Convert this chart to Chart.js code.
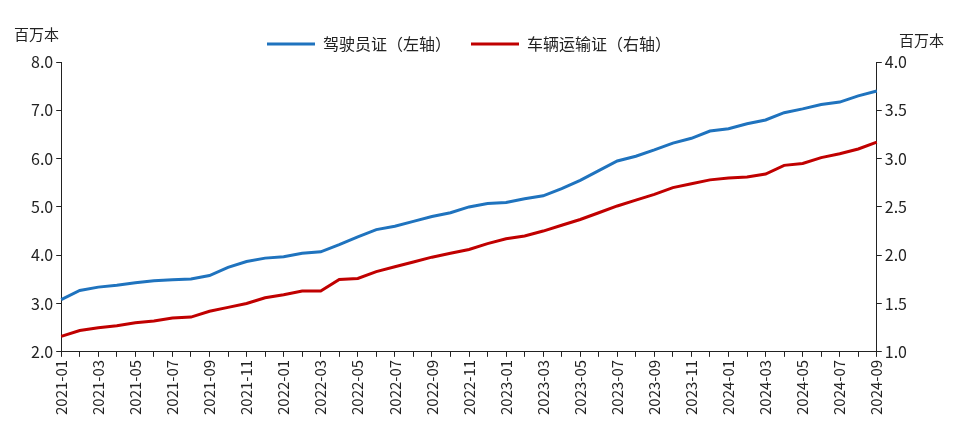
<!doctype html>
<html lang="zh-CN">
<head>
<meta charset="utf-8" />
<style>
  body { margin: 0; background: #fff; }
  #wrap { width: 960px; height: 448px; }
</style>
</head>
<body>
<div id="wrap"><canvas id="c" width="960" height="448"></canvas></div>
<script src="https://cdn.jsdelivr.net/npm/chart.js"></script>
<script>
// 月份
const months = [];
for (let y = 2021; y <= 2024; y++) {
  for (let m = 1; m <= 12; m++) {
    if (y === 2024 && m > 9) break;
    months.push(y + "-" + String(m).padStart(2, "0"));
  }
}

// 驾驶员证（左轴，百万本）
const driverCert = [
  3.08, 3.27, 3.34, 3.38, 3.43, 3.47, 3.49, 3.51, 3.58, 3.75, 3.87, 3.94,
  3.97, 4.04, 4.07, 4.22, 4.38, 4.53, 4.60, 4.70, 4.80, 4.88, 5.00, 5.07,
  5.09, 5.17, 5.23, 5.38, 5.55, 5.75, 5.95, 6.05, 6.18, 6.32, 6.42, 6.57,
  6.62, 6.72, 6.80, 6.95, 7.03, 7.12, 7.17, 7.30, 7.40
];

// 车辆运输证（右轴，百万本）
const vehicleCert = [
  1.16, 1.22, 1.25, 1.27, 1.30, 1.32, 1.35, 1.36, 1.42, 1.46, 1.50, 1.56,
  1.59, 1.63, 1.63, 1.75, 1.76, 1.83, 1.88, 1.93, 1.98, 2.02, 2.06, 2.12,
  2.17, 2.20, 2.25, 2.31, 2.37, 2.44, 2.51, 2.57, 2.63, 2.70, 2.74, 2.78,
  2.80, 2.81, 2.84, 2.93, 2.95, 3.01, 3.05, 3.10, 3.17
];

const FONT = '"Noto Sans CJK SC", "Noto Sans", sans-serif';

// 轴上方的单位文字
const unitLabels = {
  id: "unitLabels",
  afterDraw(chart) {
    const { ctx } = chart;
    ctx.save();
    ctx.font = "15px " + FONT;
    ctx.fillStyle = "#222";
    ctx.textBaseline = "middle";
    ctx.textAlign = "left";
    ctx.fillText("百万本", 14, 34);
    ctx.textAlign = "right";
    ctx.fillText("百万本", 944, 40);
    ctx.restore();
  }
};

const axisGrid = { display: true, drawOnChartArea: false, tickLength: 5, color: "#222" };

new Chart(document.getElementById("c"), {
  type: "line",
  data: {
    labels: months,
    datasets: [
      {
        label: "驾驶员证（左轴）",
        data: driverCert,
        borderColor: "#1f73be",
        backgroundColor: "#1f73be",
        borderWidth: 3,
        pointRadius: 0,
        yAxisID: "y"
      },
      {
        label: "车辆运输证（右轴）",
        data: vehicleCert,
        borderColor: "#c00000",
        backgroundColor: "#c00000",
        borderWidth: 3,
        pointRadius: 0,
        yAxisID: "y1"
      }
    ]
  },
  options: {
    responsive: false,
    animation: false,
    layout: { padding: { left: 28, right: 50, top: 16, bottom: 30 } },
    scales: {
      x: {
        offset: false,
        grid: axisGrid,
        border: { color: "#222" },
        ticks: {
          autoSkip: false,
          maxRotation: 90,
          minRotation: 90,
          color: "#222",
          font: { family: FONT, size: 15 },
          callback: function (v, i) { return i % 2 === 0 ? months[i] : ""; }
        }
      },
      y: {
        position: "left",
        min: 2, max: 8,
        grid: axisGrid,
        border: { color: "#222" },
        ticks: {
          stepSize: 1, color: "#222",
          font: { family: FONT, size: 16 },
          callback: v => v.toFixed(1)
        }
      },
      y1: {
        position: "right",
        min: 1, max: 4,
        grid: axisGrid,
        border: { color: "#222" },
        ticks: {
          stepSize: 0.5, color: "#222",
          font: { family: FONT, size: 16 },
          callback: v => v.toFixed(1)
        }
      }
    },
    plugins: {
      legend: {
        position: "top",
        labels: {
          usePointStyle: true,
          pointStyle: "line",
          pointStyleWidth: 48,
          boxHeight: 3,
          padding: 20,
          color: "#222",
          font: { family: FONT, size: 16 }
        }
      },
      tooltip: { enabled: false }
    }
  },
  plugins: [unitLabels]
});
</script>
</body>
</html>
